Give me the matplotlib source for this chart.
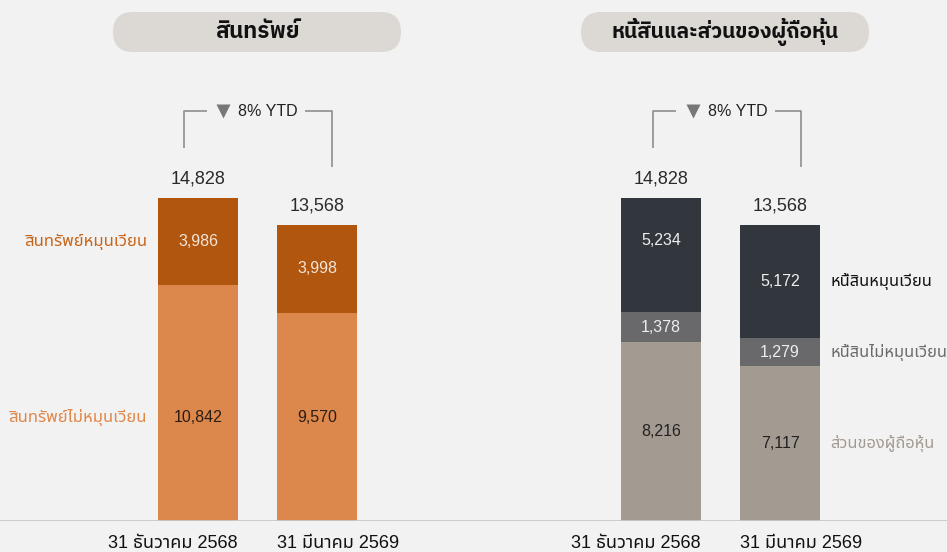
import matplotlib
matplotlib.use('Agg')
import matplotlib.pyplot as plt
import matplotlib.font_manager as fm
from matplotlib.patches import FancyBboxPatch
from matplotlib.transforms import IdentityTransform

dates = ['31 ธันวาคม 2568', '31 มีนาคม 2569']
totals = [14828, 13568]
ytd_text = '8% YTD'

asset_title = 'สินทรัพย์'
asset_names = ['สินทรัพย์ไม่หมุนเวียน', 'สินทรัพย์หมุนเวียน']
noncurrent_assets = [10842, 9570]
current_assets = [3986, 3998]

liab_title = 'หนี้สินและส่วนของผู้ถือหุ้น'
liab_names = ['ส่วนของผู้ถือหุ้น', 'หนี้สินไม่หมุนเวียน', 'หนี้สินหมุนเวียน']
equity = [8216, 7117]
noncurrent_liab = [1378, 1279]
current_liab = [5234, 5172]

installed = {f.name for f in fm.fontManager.ttflist}
thai = next((n for n in ['Noto Sans Thai', 'IBM Plex Sans Thai', 'Kanit']
             if n in installed), 'DejaVu Sans')
thai_bold = next((n for n in ['IBM Plex Sans Thai', 'Bai Jamjuree', 'Noto Sans Thai']
                  if n in installed), 'DejaVu Sans')
plt.rcParams['font.family'] = ['Liberation Sans', thai]

BG = '#f2f2f2'
k = 323 / 14828          # pixels per unit
px = lambda p: p / k      # pixel height -> data units
w = 80 / 119

fig = plt.figure(figsize=(9.47, 5.52), dpi=100, facecolor=BG)
base = 31 / 552
axL = fig.add_axes([0, base, 0.5, 1 - base])
axR = fig.add_axes([0.5, base, 0.5, 1 - base])
axL.set_xlim(-198 / 119, 275.5 / 119)
axR.set_xlim(-187.5 / 119, 286 / 119)
x = [0, 1]
for ax in (axL, axR):
    ax.set_ylim(0, px(521))
    ax.axis('off')
    ax.axhline(0, color='#c9c9c9', lw=1.3)
    for i, t in enumerate(totals):
        ax.text(i, t + px(19), f'{t:,}', ha='center', va='center', fontsize=13, color='#2a2a2a')
    ax.text(w / 2, -px(23), dates[0], ha='right', va='center', fontsize=13, color='#111111', clip_on=False)
    ax.text(1 - w / 2, -px(23), dates[1], ha='left', va='center', fontsize=13, color='#111111', clip_on=False)

# assets
axL.bar(x, noncurrent_assets, w, color='#dc874c')
axL.bar(x, current_assets, w, bottom=noncurrent_assets, color='#b0560f')
for i in x:
    axL.text(i, px(103), f'{noncurrent_assets[i]:,}', ha='center', va='center', fontsize=11.5, color='#2b1d12')
    axL.text(i, noncurrent_assets[i] + current_assets[i] / 2, f'{current_assets[i]:,}',
             ha='center', va='center', fontsize=11.5, color='#f5e6d8')
axL.text(-0.43, noncurrent_assets[0] + current_assets[0] / 2, asset_names[1], ha='right', va='center',
         fontsize=12, color='#c8651a')
axL.text(-0.43, px(103), asset_names[0], ha='right', va='center', fontsize=12, color='#e0874a')

# liabilities and equity
mid = [a + b for a, b in zip(equity, noncurrent_liab)]
axR.bar(x, equity, w, color='#a39a91')
axR.bar(x, noncurrent_liab, w, bottom=equity, color='#69696b')
axR.bar(x, current_liab, w, bottom=mid, color='#31373d')
for i in x:
    axR.text(i, equity[i] / 2, f'{equity[i]:,}', ha='center', va='center', fontsize=11.5, color='#222222')
    axR.text(i, equity[i] + noncurrent_liab[i] / 2, f'{noncurrent_liab[i]:,}', ha='center', va='center',
             fontsize=11.5, color='#eeeeee')
    axR.text(i, mid[i] + current_liab[i] * (0.5 + 0.13 * (1 - i)), f'{current_liab[i]:,}', ha='center',
             va='center', fontsize=11.5, color='#eeeeee')
lx = 169 / 119
axR.text(lx, mid[1] + current_liab[1] / 2, liab_names[2], ha='left', va='center', fontsize=11.8,
         color='#111111')
axR.text(lx, equity[1] + noncurrent_liab[1] / 2, liab_names[1], ha='left', va='center', fontsize=11.8,
         color='#6a6a6a')
axR.text(lx, equity[1] / 2, liab_names[0], ha='left', va='center', fontsize=11.8, color='#a39a91')


def bracket(ax, xl, xr, gl, gr, tri, tx):
    top, bl, br = px(410), px(373), px(354)
    kw = dict(color='#8e8e8e', lw=1.2, solid_capstyle='butt')
    ax.plot([xl, xl, gl], [bl, top, top], **kw)
    ax.plot([gr, xr, xr], [top, top, br], **kw)
    ax.plot([tri], [top], marker='v', ms=10, color='#777777', mec='none')
    ax.text(tx, top, ytd_text, ha='left', va='center', fontsize=11.5, color='#222222')


bracket(axL, -14 / 119, 134 / 119, 9 / 119, 107 / 119, 25 / 119, 40 / 119)
bracket(axR, -8 / 119, 140 / 119, 15 / 119, 114 / 119, 32 / 119, 47 / 119)

# title pills
for cx, title, size in [(257, asset_title, 16), (725, liab_title, 15)]:
    fig.add_artist(FancyBboxPatch((cx - 144, 500), 288, 40, boxstyle='round,pad=0,rounding_size=20',
                                  transform=IdentityTransform(), fc='#dcd9d5', ec='none'))
    fig.text(cx / 947, 1 - 32 / 552, title, ha='center', va='center', fontsize=size, fontweight='bold',
             color='#111111', family=[thai_bold])

fig.savefig('out.png', dpi=100, facecolor=BG)
